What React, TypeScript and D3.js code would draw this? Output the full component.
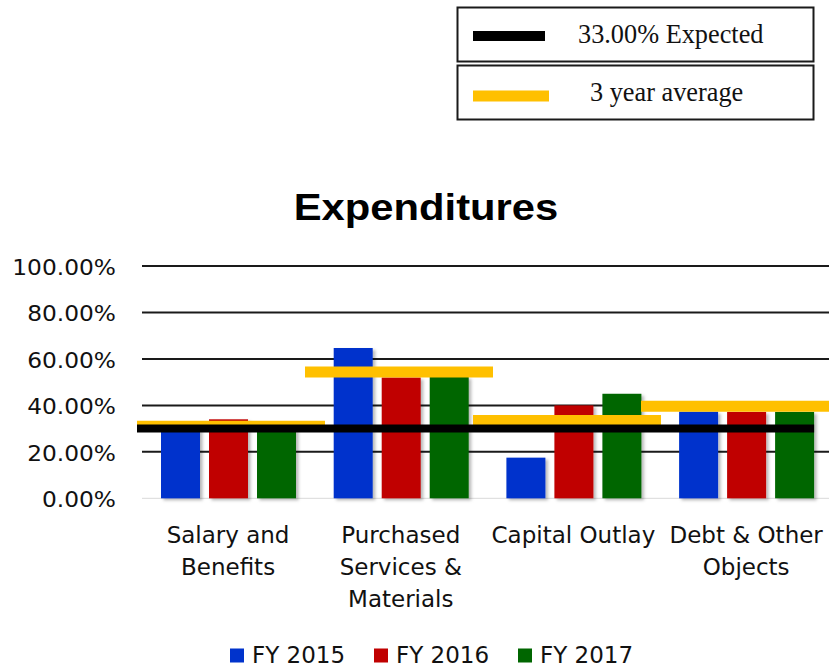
import React from 'react'
import * as d3 from 'd3'

// categories shown on the x axis (split into lines as in the picture)
const categories = ['Salary and Benefits', 'Purchased Services & Materials', 'Capital Outlay', 'Debt & Other Objects']
const categoryLines = [['Salary and', 'Benefits'], ['Purchased', 'Services &', 'Materials'], ['Capital Outlay'], ['Debt & Other', 'Objects']]

const seriesNames = ['FY 2015', 'FY 2016', 'FY 2017']
const fy2015 = [30, 64.7, 17.5, 37.3]
const fy2016 = [34, 52, 40, 37.2]
const fy2017 = [30, 52.3, 45, 37.2]
const threeYearAvg = [31, 54.4, 33.5, 39.6]
const expectedLine = 30
const yTicks = [0, 20, 40, 60, 80, 100]

const COLORS = ['#0033cc', '#c00000', '#006600']
const AVG_COLOR = '#ffc000'
const EXPECTED_COLOR = '#000000'

const W = 829
const H = 669

export default function App() {
  const seriesValues = [fy2015, fy2016, fy2017]

  const x = d3.scaleBand<string>().domain(categories).range([141.7, 141.7 + 4 * 172.7])
  const x1 = d3.scaleBand<string>().domain(seriesNames).range([19.3, 154.3]).paddingInner(0.1875)
  // the average segments sit on a slightly different band grid in the original
  const xAvg = d3.scaleBand<string>().domain(categories).range([147, 147 + 4 * 168])
  const y = d3.scaleLinear().domain([0, 100]).range([498.3, 266])

  const fmt = (d: number) => d.toFixed(2) + '%'
  const lastCat = categories[categories.length - 1]
  const expX1 = xAvg(categories[0])! - 10
  const expX2 = x(lastCat)! + x1.range()[1]

  return (
    <div style={{ position: 'absolute', left: 0, top: 0 }}>
      <svg width={W} height={H} style={{ display: 'block', background: '#fff' }}>
        <defs>
          <filter id="barShadow" x="-20%" y="-10%" width="140%" height="130%">
            <feDropShadow dx="2.5" dy="2" stdDeviation="1.5" floodColor="#000" floodOpacity="0.28" />
          </filter>
        </defs>

        {/* top legend boxes */}
        <g>
          <rect x={457.5} y={7.5} width={356} height={54} fill="#fff" stroke="#1a1a1a" strokeWidth={2} />
          <rect x={457.5} y={65.5} width={356} height={54} fill="#fff" stroke="#1a1a1a" strokeWidth={2} />
          <line x1={473} x2={545} y1={36} y2={36} stroke={EXPECTED_COLOR} strokeWidth={10} />
          <line x1={473} x2={549} y1={96} y2={96} stroke={AVG_COLOR} strokeWidth={11} />
          <text x={578} y={43} fontFamily="'Liberation Serif', 'Times New Roman', serif" fontSize={26.3} fill="#111">
            33.00% Expected
          </text>
          <text x={590} y={101} fontFamily="'Liberation Serif', 'Times New Roman', serif" fontSize={26.3} fill="#111">
            3 year average
          </text>
        </g>

        {/* title */}
        <text
          transform="translate(426,220) scale(1.16,1)"
          textAnchor="middle"
          fontFamily="'Liberation Sans', Arial, sans-serif"
          fontWeight="bold"
          fontSize={36}
          fill="#000"
        >
          Expenditures
        </text>

        {/* gridlines + y ticks */}
        {yTicks.map(t => (
          <g key={t}>
            <line
              x1={142}
              x2={W}
              y1={y(t)}
              y2={y(t)}
              stroke={t === 0 ? '#d9d9d9' : '#1a1a1a'}
              strokeWidth={t === 0 ? 1 : 2}
            />
            <text
              transform={`translate(116,${y(t) + 9}) scale(1.06,1)`}
              textAnchor="end"
              fontFamily="'DejaVu Sans', Verdana, sans-serif"
              fontSize={22}
              fill="#111"
            >
              {fmt(t)}
            </text>
          </g>
        ))}

        {/* bars */}
        <g filter="url(#barShadow)">
          {categories.map((c, ci) =>
            seriesNames.map((s, si) => (
              <rect
                key={c + s}
                x={x(c)! + x1(s)!}
                y={y(seriesValues[si][ci])}
                width={x1.bandwidth()}
                height={y(0) - y(seriesValues[si][ci])}
                fill={COLORS[si]}
              />
            ))
          )}
        </g>

        {/* 3 year average segments */}
        {categories.map((c, ci) => (
          <line
            key={'avg' + c}
            x1={xAvg(c)! - 10}
            x2={xAvg(c)! + xAvg.bandwidth() + 10}
            y1={y(threeYearAvg[ci])}
            y2={y(threeYearAvg[ci])}
            stroke={AVG_COLOR}
            strokeWidth={11}
          />
        ))}

        {/* expected line */}
        <line x1={expX1} x2={expX2} y1={y(expectedLine)} y2={y(expectedLine)} stroke={EXPECTED_COLOR} strokeWidth={8} />

        {/* category labels */}
        {categories.map((c, ci) => (
          <text
            key={'lbl' + c}
            x={x(c)! + x.bandwidth() / 2}
            y={543}
            textAnchor="middle"
            fontFamily="'DejaVu Sans', Verdana, sans-serif"
            fontSize={23}
            fill="#111"
          >
            {categoryLines[ci].map((ln, li) => (
              <tspan key={li} x={x(c)! + x.bandwidth() / 2} dy={li === 0 ? 0 : 32}>
                {ln}
              </tspan>
            ))}
          </text>
        ))}

        {/* bottom legend */}
        {seriesNames.map((s, si) => (
          <g key={'leg' + s} transform={`translate(${230 + si * 144},0)`}>
            <rect x={0} y={648.5} width={14} height={14} fill={COLORS[si]} />
            <text x={22} y={663} fontFamily="'DejaVu Sans', Verdana, sans-serif" fontSize={23} fill="#111">
              {s}
            </text>
          </g>
        ))}
      </svg>
    </div>
  )
}
